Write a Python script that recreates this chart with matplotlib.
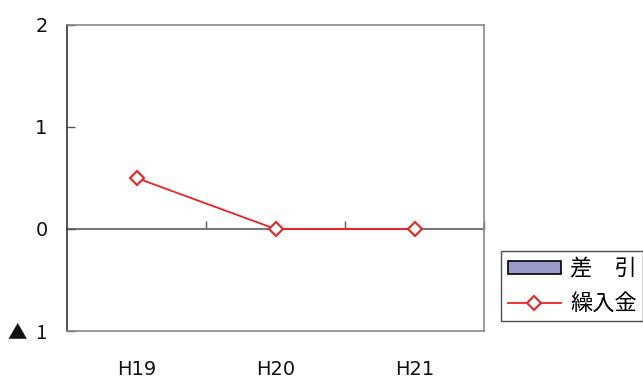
import matplotlib
matplotlib.use("Agg")
import matplotlib.pyplot as plt
from matplotlib.patches import Patch
from matplotlib.lines import Line2D

plt.rcParams['font.family'] = ['DejaVu Sans', 'Noto Sans CJK JP']

# Data
years = ["H19", "H20", "H21"]
diff = [0, 0, 0]            # 差引
transfer = [0.5, 0, 0]      # 繰入金
y_ticks = [-1, 0, 1, 2]
y_labels = ["▲  1", "0", "1", "2"]

BAR_COLOR = "#9999CC"
LINE_COLOR = "#EE2222"

fig = plt.figure(figsize=(6.43, 3.83), dpi=100)
ax = fig.add_axes([67/643, 52/383, 417/643, 306/383])

x = list(range(len(years)))
ax.bar(x, diff, width=0.5, color=BAR_COLOR, linewidth=0)
ax.plot(x, transfer, color=LINE_COLOR, linewidth=1.3, marker="D", markersize=7,
        markerfacecolor="white", markeredgecolor=LINE_COLOR, markeredgewidth=1.5,
        zorder=5)

ax.set_xlim(-0.5, len(years) - 0.5)
ax.set_ylim(-1, 2)
ax.set_yticks(y_ticks)
ax.set_yticklabels(y_labels)
ax.set_xticks(x)
ax.set_xticklabels(years)
ax.tick_params(axis='x', length=0, pad=21, labelsize=14, labelcolor="#111111")
ax.tick_params(axis='y', direction='in', length=6, width=1, color="#555555",
               pad=14, labelsize=14, labelcolor="#111111")
# the negative marker uses the full-width triangle of the CJK face
for lab in ax.get_yticklabels():
    if lab.get_text().startswith("▲"):
        lab.set_family(['Noto Sans CJK JP', 'DejaVu Sans'])

for side in ["top", "right", "bottom"]:
    ax.spines[side].set_color("#888888")
    ax.spines[side].set_linewidth(1.2)
ax.spines["left"].set_color("#333333")
ax.spines["left"].set_linewidth(1.2)

# Zero line with category-boundary ticks
y0, y1 = ax.get_ylim()
zero = ax.secondary_xaxis((0 - y0) / (y1 - y0))
zero.set_xticks([i + 0.5 for i in x])
zero.set_xticklabels([])
zero.tick_params(direction='in', length=6, width=1, color="#555555")
zero.spines["bottom"].set_color("#777777")
zero.spines["bottom"].set_linewidth(1.5)
zero.spines["top"].set_visible(False)

handles = [
    Patch(facecolor=BAR_COLOR, edgecolor="#000000", linewidth=1.2),
    Line2D([], [], color=LINE_COLOR, linewidth=1.3, marker="D", markersize=7,
           markerfacecolor="white", markeredgecolor=LINE_COLOR, markeredgewidth=1.5),
]
leg = fig.legend(handles, ["差\u3000引", "繰入金"], loc="upper left",
                 bbox_to_anchor=(501/643, 1 - 251/383),
                 prop={'family': ['Noto Sans CJK JP', 'DejaVu Sans'], 'size': 16},
                 frameon=True, fancybox=False, handlelength=2.4, handleheight=0.5,
                 borderpad=0.3, labelspacing=0.5, handletextpad=0.4,
                 borderaxespad=0)
leg.get_frame().set_edgecolor("#222222")
leg.get_frame().set_linewidth(1.0)

fig.savefig("out.png", dpi=100)
